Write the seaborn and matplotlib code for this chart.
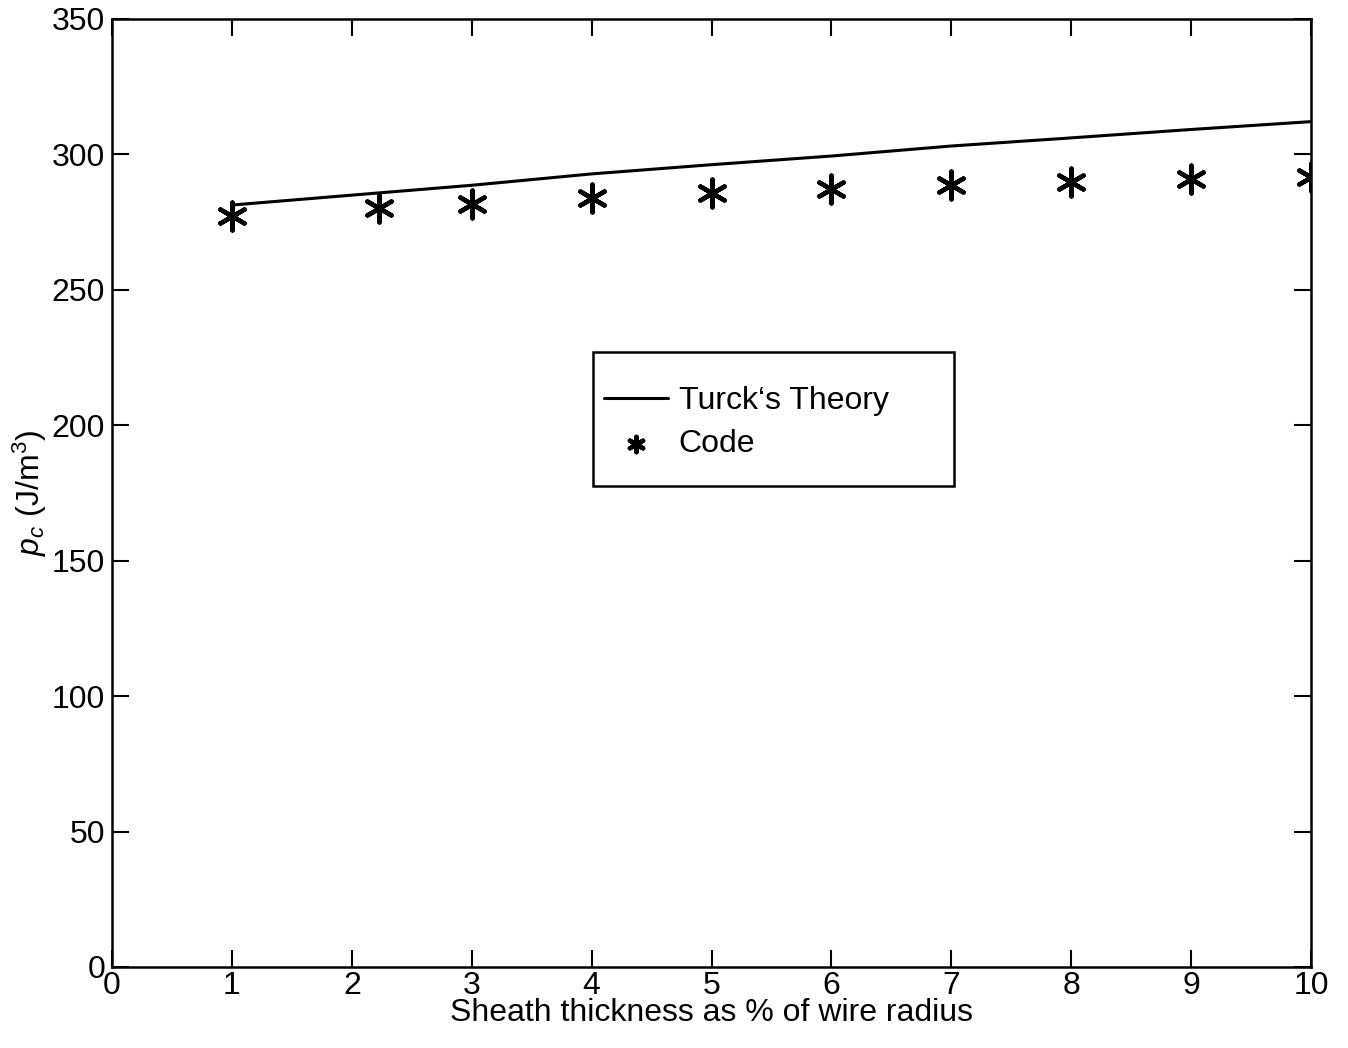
import matplotlib
matplotlib.use("Agg")
import matplotlib.pyplot as plt
from matplotlib.patches import Rectangle
import seaborn as sns
import pandas as pd

# Data
thickness = [1, 2.23, 3, 4, 5, 6, 7, 8, 9, 10]
theory = [281.3, 285.8, 288.6, 292.8, 296.2, 299.4, 303.1, 306.1, 309.2, 312.1]
code = [277.2, 280.1, 281.8, 284.0, 285.8, 287.4, 288.7, 289.9, 290.9, 291.5]

x_ticks = list(range(0, 11))
y_ticks = list(range(0, 351, 50))

sns.set_theme(style="ticks")
plt.rcParams['font.family'] = ['Liberation Sans', 'DejaVu Sans']
plt.rcParams['mathtext.fontset'] = 'custom'
plt.rcParams['mathtext.it'] = 'Liberation Sans:italic'
plt.rcParams['mathtext.rm'] = 'Liberation Sans'

df_t = pd.DataFrame({"x": thickness, "y": theory})
df_c = pd.DataFrame({"x": thickness, "y": code})

fig = plt.figure(figsize=(13.48, 10.48), dpi=100)
ax = fig.add_axes([0.0831, 0.0773, 0.8895, 0.9046])

sns.lineplot(data=df_t, x="x", y="y", ax=ax, color="black", linewidth=2.2,
             label="Turck\u2018s Theory")
sns.scatterplot(data=df_c, x="x", y="y", ax=ax, marker=(6, 2, 0), s=400,
                color="black", linewidth=3.2, edgecolor="black", label="Code")

ax.set_xlim(0, 10)
ax.set_ylim(0, 350)
ax.set_xticks(x_ticks)
ax.set_yticks(y_ticks)
ax.tick_params(direction="in", length=12, width=1.5, top=True, right=True,
               labelsize=23, pad=3, colors="black")
ax.tick_params(axis="y", pad=5)
for s in ax.spines.values():
    s.set_linewidth(1.8)
    s.set_color("black")
    s.set_visible(True)

ax.set_xlabel("Sheath thickness as % of wire radius", fontsize=23, labelpad=-2,
              color="black")
ax.set_ylabel(r"$p_c$ (J/m$^3$)", fontsize=23, labelpad=2, color="black")

# legend box
box = Rectangle((0.401, 0.507), 0.301, 0.142, transform=ax.transAxes,
                facecolor="white", edgecolor="black", linewidth=1.8, zorder=4)
ax.add_patch(box)

leg = ax.legend(loc="upper left", bbox_to_anchor=(0.410, 0.6125),
                fontsize=23, frameon=False, handlelength=2.0, borderpad=0,
                labelspacing=0.41, handletextpad=0.35, borderaxespad=0,
                markerscale=0.55)
leg.set_zorder(5)
for t in leg.get_texts():
    t.set_color("black")

fig.savefig("out.png", dpi=100, facecolor="white")
